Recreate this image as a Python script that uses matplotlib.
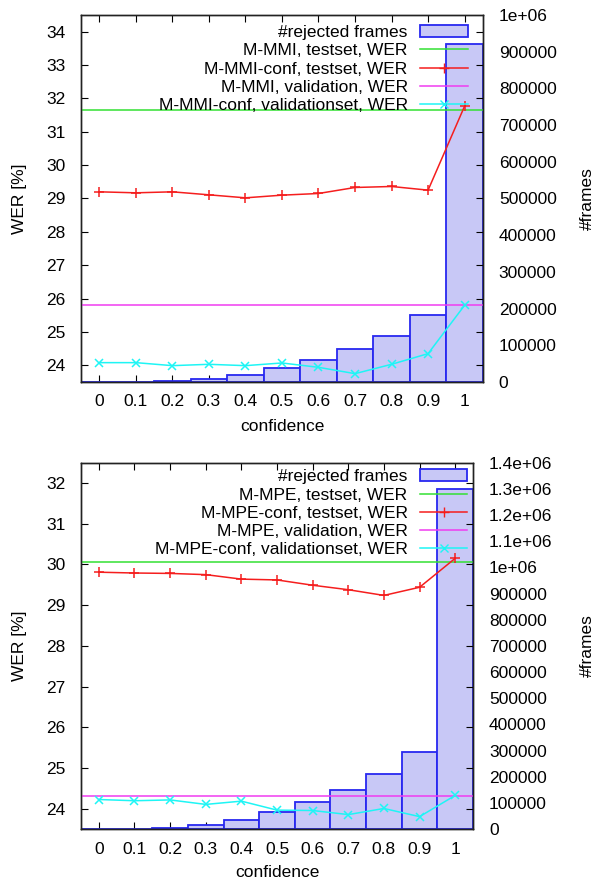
import matplotlib
matplotlib.use("Agg")
import matplotlib.pyplot as plt
from matplotlib.patches import Patch
from matplotlib.lines import Line2D

plt.rcParams['font.family'] = ['Liberation Sans', 'DejaVu Sans']
plt.rcParams['font.size'] = 12.5

confidence = [0.0, 0.1, 0.2, 0.3, 0.4, 0.5, 0.6, 0.7, 0.8, 0.9, 1.0]

# M-MMI
mmi_frames = [0, 1000, 2700, 8200, 19000, 37000, 61000, 91000, 125000, 182000, 922000]
mmi_test = 31.64
mmi_conf_test = [29.20, 29.17, 29.20, 29.11, 29.02, 29.10, 29.15, 29.33, 29.36, 29.25, 31.77]
mmi_valid = 25.80
mmi_conf_valid = [24.08, 24.08, 23.99, 24.03, 23.99, 24.07, 23.94, 23.75, 24.03, 24.35, 25.80]

# M-MPE
mpe_frames = [0, 1500, 6000, 15000, 37000, 65000, 104000, 151000, 211000, 295000, 1300000]
mpe_test = 30.07
mpe_conf_test = [29.81, 29.79, 29.78, 29.75, 29.64, 29.62, 29.49, 29.38, 29.24, 29.44, 30.15]
mpe_valid = 24.32
mpe_conf_valid = [24.23, 24.20, 24.22, 24.11, 24.19, 23.97, 23.96, 23.86, 24.01, 23.81, 24.33]

BAR_FACE = '#c8c8f6'
BAR_EDGE = '#2828f0'
GREEN = '#33e033'
RED = '#f51e1e'
MAGENTA = '#f03cf0'
CYAN = '#1ef5f5'
LW = 1.1


def draw_panel(fig, rect, name, frames, test, conf_test, valid, conf_valid,
               werlim, werticks, framelim, frameticks, frame_labels,
               label_x, xlabel_y, legend_anchor):
    # bars live on the base axes so the WER lines end up on top
    axb = fig.add_axes(rect)
    axw = axb.twinx()

    axb.bar(confidence, frames, width=0.1, color=BAR_FACE,
            edgecolor=BAR_EDGE, linewidth=1.3, zorder=2)
    axb.set_ylim(*framelim)
    axb.set_xlim(-0.05, 1.05)
    axb.yaxis.tick_right()
    axb.set_yticks(frameticks)
    axb.set_yticklabels(frame_labels)
    axb.tick_params(axis='y', length=0, pad=11.5)
    axb.set_ylabel('#frames', va='center')
    axb.yaxis.set_label_coords(label_x[1], 0.5)
    axb.set_xticks(confidence)
    axb.set_xticklabels([f'{c:g}' for c in confidence])
    axb.tick_params(axis='x', direction='in', top=True, length=5, pad=9)
    axb.set_xlabel('confidence', va='center')
    axb.xaxis.set_label_coords(0.5, xlabel_y)

    axw.axhline(test, color=GREEN, lw=LW)
    axw.plot(confidence, conf_test, color=RED, lw=LW, marker='+',
             markersize=6.5, markeredgewidth=1.1)
    axw.axhline(valid, color=MAGENTA, lw=LW)
    axw.plot(confidence, conf_valid, color=CYAN, lw=LW, marker='x',
             markersize=5.5, markeredgewidth=1.1)
    axw.set_ylim(*werlim)
    axw.set_yticks(werticks)
    axw.yaxis.tick_left()
    axw.tick_params(axis='y', direction='in', right=True, length=5, pad=11)
    axw.yaxis.set_label_position('left')
    axw.set_ylabel('WER [%]')
    axw.yaxis.label.set_va('center')
    axw.yaxis.set_label_coords(label_x[0], 0.5)

    for a in (axb, axw):
        for s in a.spines.values():
            s.set_linewidth(1.0)
            s.set_color('#222222')

    handles = [
        Patch(facecolor=BAR_FACE, edgecolor=BAR_EDGE, linewidth=1.3),
        Line2D([], [], color=GREEN, lw=LW),
        Line2D([], [], color=RED, lw=LW, marker='+', markersize=6.5),
        Line2D([], [], color=MAGENTA, lw=LW),
        Line2D([], [], color=CYAN, lw=LW, marker='x', markersize=5.5),
    ]
    labels = [
        '#rejected frames',
        f'{name}, testset, WER',
        f'{name}-conf, testset, WER',
        f'{name}, validation, WER',
        f'{name}-conf, validationset, WER',
    ]
    axw.legend(handles, labels, loc='upper right', bbox_to_anchor=legend_anchor,
               frameon=False, markerfirst=False, alignment='right',
               handlelength=2.76, handletextpad=0.69, labelspacing=0.18,
               borderaxespad=0, borderpad=0.2)


fig = plt.figure(figsize=(5.98, 8.82), dpi=100)

draw_panel(fig, [0.1355, 0.5669, 0.672, 0.4161], 'M-MMI',
           mmi_frames, mmi_test, mmi_conf_test, mmi_valid, mmi_conf_valid,
           (23.5, 34.5), list(range(24, 35)), (0, 1000000),
           [i * 100000 for i in range(11)],
           ['0'] + [str(i * 100000) for i in range(1, 10)] + ['1e+06'],
           (-0.152, 1.259), -0.122, (0.9706, 0.9825))

draw_panel(fig, [0.1355, 0.0598, 0.6555, 0.4157], 'M-MPE',
           mpe_frames, mpe_test, mpe_conf_test, mpe_valid, mpe_conf_valid,
           (23.5, 32.5), list(range(24, 33)), (0, 1400000),
           [i * 100000 for i in range(15)],
           ['0'] + [str(i * 100000) for i in range(1, 10)]
           + ['1e+06', '1.1e+06', '1.2e+06', '1.3e+06', '1.4e+06'],
           (-0.156, 1.291), -0.119, (0.9947, 0.9915))

fig.savefig('out.png', dpi=100)
